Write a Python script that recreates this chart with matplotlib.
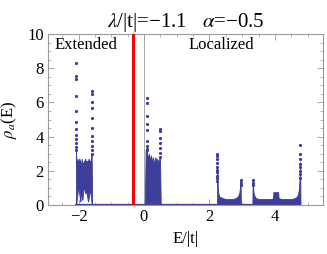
import matplotlib
matplotlib.use("Agg")
import matplotlib.pyplot as plt
from matplotlib.ticker import MultipleLocator

plt.rcParams['font.family'] = ['Liberation Serif', 'DejaVu Serif']
plt.rcParams['mathtext.fontset'] = 'stix'

# ---- data ----
# dense body envelopes of each band
e_b1 = [-2.08, -2.065, -2.05, -2.035, -2.02, -2.005, -1.99, -1.975, -1.96, -1.945, -1.93, -1.915, -1.90, -1.885, -1.87, -1.855, -1.84, -1.825, -1.81, -1.795, -1.78, -1.765, -1.75, -1.735, -1.72, -1.705, -1.69, -1.675, -1.66, -1.645, -1.63, -1.615, -1.60, -1.59]
up_b1 = [3.2, 2.6, 2.3, 2.7, 2.4, 2.6, 2.2, 2.7, 2.5, 2.6, 2.1, 2.4, 2.7, 2.3, 2.5, 1.9, 2.3, 2.6, 2.4, 2.7, 2.2, 2.6, 2.5, 2.3, 2.6, 2.4, 2.7, 2.2, 2.5, 2.6, 2.4, 2.8, 3.0, 1.5]
lo_b1 = [0.0, 0.1, 0.4, 0.6, 0.9, 1.0, 0.8, 0.6, 0.4, 0.2, 0.5, 0.8, 0.6, 0.3, 0.5, 0.9, 1.0, 0.9, 0.8, 0.7, 0.9, 0.8, 0.6, 0.5, 0.3, 0.2, 0.4, 0.6, 0.8, 0.9, 0.6, 0.3, 0.1, 0.0]

e_b2 = [0.03, 0.05, 0.07, 0.09, 0.11, 0.13, 0.15, 0.17, 0.19, 0.21, 0.23, 0.25, 0.27, 0.29, 0.31, 0.33, 0.35, 0.37, 0.39, 0.41, 0.43, 0.45, 0.47, 0.49, 0.51]
up_b2 = [0.5, 3.2, 3.3, 3.1, 2.9, 2.6, 3.0, 2.8, 2.5, 2.9, 2.7, 2.4, 2.8, 2.6, 2.3, 2.7, 2.8, 2.5, 2.7, 2.4, 2.6, 2.7, 2.5, 2.8, 0.2]
lo_b2 = [0.0, 0.0, 0.1, 0.0, 0.3, 0.0, 0.2, 0.0, 0.1, 0.4, 0.0, 0.2, 0.0, 0.3, 0.0, 0.1, 0.0, 0.2, 0.0, 0.3, 0.0, 0.1, 0.0, 0.0, 0.0]

e_b3 = [2.23, 2.24, 2.25, 2.27, 2.30, 2.35, 2.40, 2.50, 2.60, 2.70, 2.80, 2.87, 2.91, 2.93, 2.95, 2.96]
up_b3 = [0.0, 2.0, 1.1, 0.7, 0.5, 0.45, 0.4, 0.35, 0.35, 0.35, 0.4, 0.5, 0.7, 1.0, 1.45, 0.0]

e_b4 = [3.31, 3.32, 3.34, 3.37, 3.42, 3.50, 3.60, 3.70, 3.80, 3.90, 3.94, 3.95, 4.05, 4.10, 4.11, 4.20, 4.30, 4.40, 4.50, 4.60, 4.65, 4.70, 4.73, 4.75, 4.77, 4.78]
up_b4 = [0.0, 1.45, 0.8, 0.55, 0.4, 0.35, 0.35, 0.35, 0.35, 0.35, 0.4, 0.75, 0.75, 0.75, 0.4, 0.35, 0.35, 0.35, 0.35, 0.4, 0.45, 0.6, 0.9, 1.5, 2.5, 0.0]

# isolated points on band-edge spikes
spike_e = [-2.07] * 12 + [-1.60] * 11 + [0.08] * 9 + [0.50] * 7 + [2.24] * 10 + [2.95] * 3 + [3.32] * 3 + [4.76] * 8
spike_rho = [8.33, 7.55, 7.35, 6.4, 5.5, 4.85, 4.45, 4.1, 3.85, 3.6, 3.4, 3.2,
             6.65, 6.5, 6.0, 5.7, 5.1, 4.5, 4.05, 3.75, 3.45, 3.2, 3.0,
             6.26, 5.95, 5.2, 4.75, 4.4, 3.75, 3.45, 3.3, 3.2,
             4.47, 4.3, 3.9, 3.65, 3.35, 3.05, 2.8,
             3.0, 2.85, 2.7, 2.45, 2.25, 2.05, 1.9, 1.7, 1.55, 1.4,
             1.45, 1.3, 1.15,
             1.45, 1.3, 1.15,
             3.5, 3.0, 2.7, 2.4, 2.2, 2.0, 1.8, 1.6]

# zero-density baseline range
zero_range = [-2.1, 4.8]
mobility_edge = -0.34

xticks = [-2, 0, 2, 4]
yticks = [0, 2, 4, 6, 8, 10]

blue = '#3d3d9a'
gray = '#9a9a9a'

fig = plt.figure(figsize=(3.27, 2.54), dpi=100)
ax = fig.add_axes([0.147, 0.193, 0.841, 0.673])

ax.axhline(0, color=gray, lw=0.6, zorder=1)
ax.axvline(0, color=gray, lw=0.6, zorder=1)

ax.plot(zero_range, [0, 0], color=blue, lw=1.6, solid_capstyle='butt', zorder=2)
ax.fill_between(e_b1, lo_b1, up_b1, color=blue, lw=0.6, edgecolor=blue, zorder=2)
ax.fill_between(e_b2, lo_b2, up_b2, color=blue, lw=0.6, edgecolor=blue, zorder=2)
ax.fill_between(e_b3, 0, up_b3, color=blue, lw=0.6, edgecolor=blue, zorder=2)
ax.fill_between(e_b4, 0, up_b4, color=blue, lw=0.6, edgecolor=blue, zorder=2)
ax.plot(spike_e, spike_rho, 'o', color=blue, ms=2.3, mew=0, zorder=3)

ax.axvline(mobility_edge, color='#ff0000', lw=2.2, zorder=4)

ax.set_xlim(-2.93, 5.47)
ax.set_ylim(0, 10)
ax.set_xticks(xticks)
ax.set_xticklabels(['\u22122', '0', '2', '4'])
ax.set_yticks(yticks)
ax.xaxis.set_minor_locator(MultipleLocator(0.5))
ax.yaxis.set_minor_locator(MultipleLocator(0.5))
ax.tick_params(which='both', direction='in', top=True, right=True, color=gray, labelsize=12, pad=3)
ax.tick_params(which='major', length=4, width=0.6)
ax.tick_params(which='minor', length=2, width=0.5)
for s in ax.spines.values():
    s.set_color(gray)
    s.set_linewidth(0.8)

ax.text(0.022, 0.935, 'Extended', transform=ax.transAxes, fontsize=12, va='center', ha='left')
ax.text(0.63, 0.935, 'Localized', transform=ax.transAxes, fontsize=12, va='center', ha='center')

ax.set_title('$\\lambda$/|t|=\u22121.1   $\\alpha$=\u22120.5', fontsize=15, pad=5)
ax.set_xlabel('E/|t|', fontsize=12, labelpad=4)
ax.set_ylabel('$\\rho_a$(E)', fontsize=12, labelpad=6)

fig.savefig('out.png', dpi=100)
